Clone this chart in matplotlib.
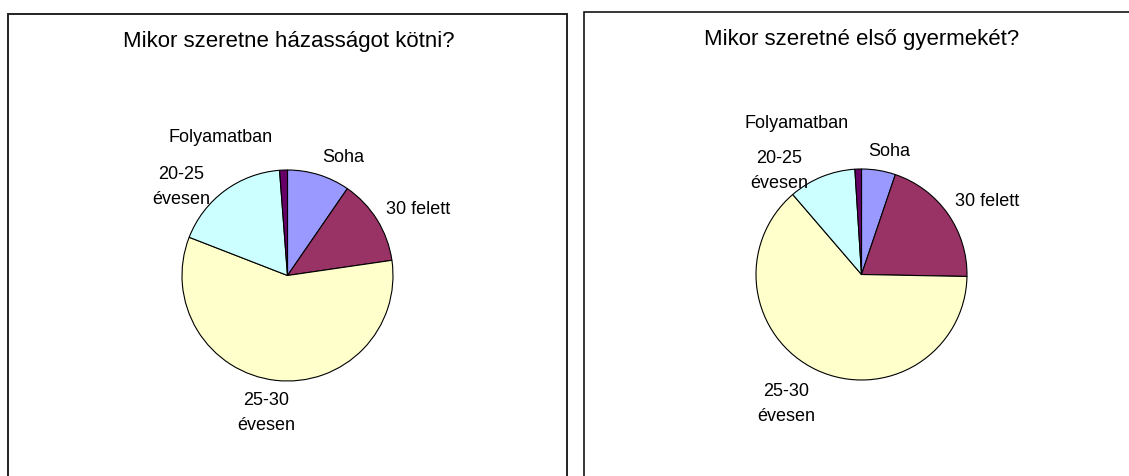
import matplotlib
matplotlib.use("Agg")
import matplotlib.pyplot as plt
from matplotlib.patches import Rectangle

plt.rcParams['font.family'] = ['Liberation Sans', 'DejaVu Sans']

# data (percent), clockwise from the top
categories = ["Soha", "30 felett", "25-30\névesen", "20-25\névesen", "Folyamatban"]
marriage = [9.6, 13.1, 58.2, 17.9, 1.2]
first_child = [5.2, 20.1, 63.4, 10.3, 1.0]
titles = ["Mikor szeretne házasságot kötni?", "Mikor szeretné első gyermekét?"]

colors = ["#9999FF", "#993366", "#FFFFCC", "#CCFFFF", "#660066"]

W, H = 1129, 477
fig = plt.figure(figsize=(W / 100, H / 100), dpi=100)
ax = fig.add_axes([0, 0, 1, 1])

# panel layout in pixels (x from left, y from top)
panels = [
    dict(box=(8, 15, 567, 500), lw=1.4, ec="#222222", center=(287.5, 276.5),
         title=(289, 42),
         label_pos=[(343, 157), (418, 210), (266, 413), (181, 187), (221, 138)]),
    dict(box=(584, 13, 1140, 500), lw=1.1, ec="black", center=(861.5, 275.5),
         title=(862, 40),
         label_pos=[(889, 152), (987, 202), (786, 404), (779, 171), (797, 123)]),
]
radius = 105.5

for p, values, title in zip(panels, [marriage, first_child], titles):
    x0, y0, x1, y1 = p["box"]
    ax.add_patch(Rectangle((x0, H - y1), x1 - x0, y1 - y0, fill=False,
                           lw=p["lw"], ec=p["ec"]))
    cx, cy = p["center"]
    ax.pie(values, colors=colors, startangle=90, counterclock=False,
           center=(cx, H - cy), radius=radius,
           wedgeprops=dict(edgecolor="black", linewidth=0.8))
    ax.text(p["title"][0], H - p["title"][1], title, ha="center", va="center",
            fontsize=16)
    for lab, (lx, ly) in zip(categories, p["label_pos"]):
        ax.text(lx, H - ly, lab, ha="center", va="center", fontsize=13,
                linespacing=1.6)

ax.set_xlim(0, W)
ax.set_ylim(0, H)
ax.set_aspect("equal")
ax.axis("off")

fig.savefig("out.png", dpi=100)
